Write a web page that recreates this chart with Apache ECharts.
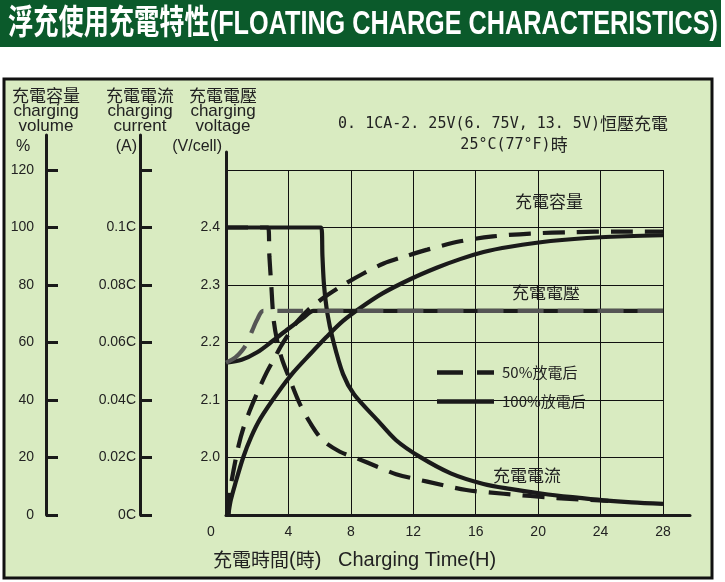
<!DOCTYPE html>
<html><head><meta charset="utf-8">
<script src="https://cdn.jsdelivr.net/npm/echarts@6/dist/echarts.min.js"></script>
<style>html,body{margin:0;padding:0;background:#fff}#c{width:725px;height:582px}</style>
</head><body><div id="c"></div>
<script>
// ---- data ----
const xTicks = [0, 4, 8, 12, 16, 20, 24, 28];
const volumeTicks = [0, 20, 40, 60, 80, 100, 120];
const currentTickLabels = ['0C', '0.02C', '0.04C', '0.06C', '0.08C', '0.1C'];
const voltageTickLabels = ['2.0', '2.1', '2.2', '2.3', '2.4'];

const vol50H = [0.15, 0.25, 0.5, 0.8, 1.1, 1.5, 2.0, 2.6, 3.1, 3.5, 3.9, 4.6, 5.4, 6.5, 7.5, 8.8, 10.1, 11.5, 12.9, 15, 17.1, 19.5, 22.3, 25, 28];
const vol50  = [0, 8, 16, 24, 30, 36, 42.5, 49.5, 54.5, 58.5, 62, 67.5, 72, 76.5, 80, 84, 87.5, 90, 92.3, 95.2, 96.9, 97.9, 98.4, 98.6, 98.6];

const vol100H = [0.15, 0.3, 0.6, 1.1, 1.6, 2.2, 3.25, 4.3, 5.4, 6.45, 7.5, 8.6, 10, 11.8, 13.5, 15, 16.5, 18.2, 20.8, 24, 28];
const vol100  = [0, 5, 11, 20, 27, 33.5, 42, 49.5, 56, 62, 67.5, 72, 77, 82, 86, 89, 91.5, 93.3, 95.3, 96.6, 97.3];

const cur50H = [0, 2.7, 2.78, 2.9, 3.05, 3.3, 3.6, 4.1, 4.7, 5.4, 6.2, 7.3, 8.4, 9.7, 10.9, 12.9, 15.4, 17.8, 21.2, 24.5];
const cur50  = [0.1, 0.1, 0.09, 0.08, 0.068, 0.06, 0.054, 0.047, 0.039, 0.032, 0.026, 0.022, 0.0197, 0.0168, 0.0142, 0.0116, 0.0087, 0.0074, 0.0059, 0.0049];

const cur100H = [0, 6.1, 6.18, 6.28, 6.5, 6.85, 7.5, 8.2, 9.7, 10.9, 12.4, 14.4, 16.5, 18.2, 20.3, 22.2, 24.2, 26, 28];
const cur100  = [0.1, 0.1, 0.09, 0.08, 0.07, 0.061, 0.049, 0.042, 0.033, 0.026, 0.0203, 0.0145, 0.0108, 0.0091, 0.0074, 0.0062, 0.0051, 0.0044, 0.0039];

const volt100H = [0, 1, 2, 3, 4, 5, 5.6, 28];
const volt100  = [2.165, 2.17, 2.183, 2.203, 2.224, 2.244, 2.255, 2.255];

const volt50H = [0, 0.6, 1.0, 1.3, 1.7, 2.0, 2.4, 28];
const volt50  = [2.165, 2.174, 2.185, 2.197, 2.222, 2.24, 2.255, 2.255];

const titleText = '浮充使用充電特性(FLOATING CHARGE CHARACTERISTICS)';
const legendNames = ['50%放電后', '100%放電后'];

// ---- helpers ----
const zip = (a, b) => a.map((v, i) => [v, b[i]]);
const INK = '#1a1a1a';
const TXT = '#222';
const LAT = '"Liberation Sans", Arial, "Noto Sans CJK TC", sans-serif';
const CJK = '"Noto Sans CJK TC", "Liberation Sans", sans-serif';

function measure(text, font) {
  const c = document.createElement('canvas').getContext('2d');
  c.font = font;
  return c.measureText(text).width;
}
const titleFont = 'bold 34px "Liberation Sans", "Noto Sans CJK TC"';
const titleScale = 710 / measure(titleText, titleFont);

function lineSeries(name, h, v, yIdx, dashed, color) {
  return {
    type: 'line', name: name, xAxisIndex: 0, yAxisIndex: yIdx,
    data: zip(h, v), symbol: 'none', showSymbol: false, smooth: 0.3,
    lineStyle: { color: color || INK, width: 4.2, type: dashed ? (color ? [26, 14] : [22, 12]) : 'solid', cap: 'butt' },
    itemStyle: { color: color || INK },
    emphasis: { disabled: true }, silent: true
  };
}

const hiddenX = (g) => ({ gridIndex: g, type: 'value', min: 0, max: 1, show: false });
const lineY = (g) => ({
  gridIndex: g, type: 'value', min: 0, max: 1, position: 'left',
  axisLine: { show: true, onZero: false, lineStyle: { color: INK, width: 3 } },
  axisTick: { show: false }, axisLabel: { show: false }, splitLine: { show: false }
});

const chart = echarts.init(document.getElementById('c'), null, { renderer: 'canvas' });
chart.setOption({
  backgroundColor: '#ffffff',
  animation: false,
  grid: [
    { left: 226, top: 170, width: 437, height: 345 },
    { left: 46, top: 135, width: 10, height: 380 },
    { left: 140, top: 135, width: 10, height: 380 },
    { left: 226, top: 152, width: 10, height: 363 },
    { left: 226, top: 170, width: 464, height: 345 }
  ],
  xAxis: [
    {
      gridIndex: 0, type: 'value', min: xTicks[0], max: xTicks[xTicks.length - 1], interval: 4,
      axisLine: { show: false, onZero: false }, axisTick: { show: false },
      splitLine: { show: true, lineStyle: { color: '#111', width: 1 } },
      axisLabel: {
        fontSize: 14, color: TXT, margin: 10, fontFamily: LAT,
        formatter: v => { const i = xTicks.indexOf(v); if (i < 0) return ''; return i === 0 ? '{z|' + xTicks[0] + '}' : String(xTicks[i]); },
        rich: { z: { fontSize: 14, color: TXT, fontFamily: LAT, padding: [0, 30, 0, 0] } }
      }
    },
    hiddenX(1), hiddenX(2), hiddenX(3),
    {
      gridIndex: 4, type: 'value', min: 0, max: 1,
      axisLine: { show: true, onZero: false, lineStyle: { color: INK, width: 3 } },
      axisTick: { show: false }, axisLabel: { show: false }, splitLine: { show: false }
    }
  ],
  yAxis: [
    {
      gridIndex: 0, type: 'value', min: 1.9, max: 2.5, interval: 0.1, position: 'left',
      axisLine: { show: false, onZero: false }, axisTick: { show: false },
      splitLine: { show: true, lineStyle: { color: '#111', width: 1 } },
      axisLabel: {
        fontSize: 14, color: TXT, margin: 6, fontFamily: LAT,
        formatter: v => { const i = Math.round((v - 2.0) / 0.1); return (i >= 0 && i < voltageTickLabels.length) ? voltageTickLabels[i] : ''; }
      }
    },
    {
      gridIndex: 0, type: 'value', min: 0, max: 0.12, interval: 0.02, position: 'left', offset: 86,
      axisLine: { show: false, onZero: false },
      axisTick: { show: true, inside: true, length: 12, lineStyle: { color: INK, width: 3 } },
      splitLine: { show: false },
      axisLabel: {
        fontSize: 14, color: TXT, margin: 4, fontFamily: LAT,
        formatter: v => { const i = Math.round(v / 0.02); return (i >= 0 && i < currentTickLabels.length) ? currentTickLabels[i] : ''; }
      }
    },
    {
      gridIndex: 0, type: 'value', min: volumeTicks[0], max: volumeTicks[volumeTicks.length - 1], interval: 20, position: 'left', offset: 180,
      axisLine: { show: false, onZero: false },
      axisTick: { show: true, inside: true, length: 12, lineStyle: { color: INK, width: 3 } },
      splitLine: { show: false },
      axisLabel: { fontSize: 14, color: TXT, margin: 12, fontFamily: LAT,
        formatter: v => volumeTicks.indexOf(v) >= 0 ? String(v) : '' }
    },
    lineY(1), lineY(2), lineY(3),
    { gridIndex: 4, type: 'value', min: 0, max: 1, show: false }
  ],
  legend: {
    data: [
      { name: legendNames[0], icon: 'path://M0,0H26V4.5H0Z M40,0H57V4.5H40Z' },
      { name: legendNames[1], icon: 'path://M0,0H57V4.5H0Z' }
    ],
    orient: 'vertical', left: 432, top: 360,
    itemWidth: 57, itemHeight: 4.5, itemGap: 14, selectedMode: false,
    itemStyle: { color: INK, borderWidth: 0 },
    textStyle: { fontSize: 15, color: TXT, fontFamily: CJK, padding: [0, 0, 0, 3] }
  },
  series: [
    lineSeries(legendNames[0], vol50H, vol50, 2, true),
    lineSeries(legendNames[1], vol100H, vol100, 2, false),
    lineSeries(legendNames[0], cur50H, cur50, 1, true),
    lineSeries(legendNames[1], cur100H, cur100, 1, false),
    lineSeries(legendNames[1], volt100H, volt100, 0, false),
    lineSeries(legendNames[0], volt50H, volt50, 0, true, '#555555')
  ],
  graphic: [
    { type: 'rect', z: -10, silent: true, shape: { x: 0, y: 0, width: 721, height: 47 }, style: { fill: '#0b5a2b' } },
    { type: 'rect', z: -10, silent: true, shape: { x: 4, y: 79, width: 708, height: 499 }, style: { fill: '#d9ebc1', stroke: '#111', lineWidth: 3 } },
    { type: 'text', x: 8, y: 25, scaleX: titleScale, silent: true,
      style: { text: titleText, font: titleFont, fill: '#ffffff', align: 'left', textAlign: 'left', verticalAlign: 'middle', textVerticalAlign: 'middle' } },
    // axis headers
    ...[[46, '充電容量', 'charging', 'volume'], [140, '充電電流', 'charging', 'current'], [223, '充電電壓', 'charging', 'voltage']].flatMap(([x, a, b, c]) => [
      { type: 'text', x: x, y: 96, silent: true, style: { text: a, fontSize: 17, fontFamily: CJK, fill: TXT, align: 'center', textAlign: 'center', verticalAlign: 'middle', textVerticalAlign: 'middle' } },
      { type: 'text', x: x, y: 111, silent: true, style: { text: b, fontSize: 17, fontFamily: LAT, fill: TXT, align: 'center', textAlign: 'center', verticalAlign: 'middle', textVerticalAlign: 'middle' } },
      { type: 'text', x: x, y: 126, silent: true, style: { text: c, fontSize: 17, fontFamily: LAT, fill: TXT, align: 'center', textAlign: 'center', verticalAlign: 'middle', textVerticalAlign: 'middle' } }
    ]),
    { type: 'text', x: 23, y: 147, silent: true, style: { text: '%', fontSize: 16, fontFamily: LAT, fill: TXT, align: 'center', textAlign: 'center', verticalAlign: 'middle', textVerticalAlign: 'middle' } },
    { type: 'text', x: 137, y: 147, silent: true, style: { text: '(A)', fontSize: 16, fontFamily: LAT, fill: TXT, align: 'right', textAlign: 'right', verticalAlign: 'middle', textVerticalAlign: 'middle' } },
    { type: 'text', x: 222, y: 147, silent: true, style: { text: '(V/cell)', fontSize: 16, fontFamily: LAT, fill: TXT, align: 'right', textAlign: 'right', verticalAlign: 'middle', textVerticalAlign: 'middle' } },
    // condition text
    { type: 'text', x: 503, y: 124, silent: true, style: { text: '{a|0. 1CA-2. 25V(6. 75V, 13. 5V)}{b|恒壓充電}', align: 'center', textAlign: 'center', verticalAlign: 'middle', textVerticalAlign: 'middle',
      rich: { a: { fontSize: 15, fontFamily: '"DejaVu Sans Mono", monospace', fill: TXT, color: TXT }, b: { fontSize: 17, fontFamily: CJK, fill: TXT, color: TXT } } } },
    { type: 'text', x: 514, y: 145, silent: true, style: { text: '{a|25°C(77°F)}{b|時}', align: 'center', textAlign: 'center', verticalAlign: 'middle', textVerticalAlign: 'middle',
      rich: { a: { fontSize: 15, fontFamily: '"DejaVu Sans Mono", monospace', fill: TXT, color: TXT }, b: { fontSize: 17, fontFamily: CJK, fill: TXT, color: TXT } } } },
    // curve annotations
    { type: 'text', x: 549, y: 202, silent: true, style: { text: '充電容量', fontSize: 17, fontFamily: CJK, fill: TXT, align: 'center', textAlign: 'center', verticalAlign: 'middle', textVerticalAlign: 'middle' } },
    { type: 'text', x: 546, y: 293, silent: true, style: { text: '充電電壓', fontSize: 17, fontFamily: CJK, fill: TXT, align: 'center', textAlign: 'center', verticalAlign: 'middle', textVerticalAlign: 'middle' } },
    { type: 'text', x: 527, y: 476, silent: true, style: { text: '充電電流', fontSize: 17, fontFamily: CJK, fill: TXT, align: 'center', textAlign: 'center', verticalAlign: 'middle', textVerticalAlign: 'middle' } },
    // x-axis title
    { type: 'text', x: 213, y: 560, silent: true, style: { text: '{c|充電時間}{p|(}{c|時}{p|)}{l|   Charging Time(H)}', align: 'left', textAlign: 'left', verticalAlign: 'middle', textVerticalAlign: 'middle',
      rich: { c: { fontSize: 19, fontFamily: CJK, fill: TXT, color: TXT }, p: { fontSize: 20, fontFamily: LAT, fill: TXT, color: TXT }, l: { fontSize: 20, fontFamily: LAT, fill: TXT, color: TXT } } } }
  ]
});
</script>
</body></html>
